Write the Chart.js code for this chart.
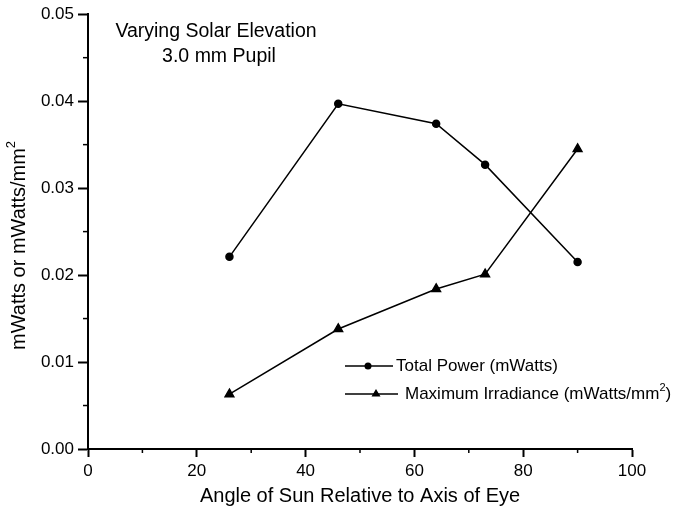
<!DOCTYPE html>
<html>
<head>
<meta charset="utf-8">
<script src="https://cdn.jsdelivr.net/npm/chart.js@4.4.1/dist/chart.umd.min.js"></script>
<style>
  html, body { margin: 0; padding: 0; background: #fff; }
  #wrap { width: 679px; height: 513px; }
</style>
</head>
<body>
<div id="wrap"><canvas id="sunChart" width="679" height="513"></canvas></div>
<script>
// số liệu
const angles = [26, 46, 64, 73, 90];
const totalPower = [0.0221, 0.0397, 0.0374, 0.0327, 0.0215];
const maxIrradiance = [0.0063, 0.0138, 0.0184, 0.0201, 0.0345];
const xMinorTicks = [10, 30, 50, 70, 90];
const yMinorTicks = [0.005, 0.015, 0.025, 0.035, 0.045];
const noteLines = ['Varying Solar Elevation', '3.0 mm Pupil'];

const FONT = '"Liberation Sans", Arial, sans-serif';

function toPoints(xs, ys) {
    return xs.map((x, i) => ({ x: x, y: ys[i] }));
}

// chữ có số mũ "2" ở cuối, ví dụ mm²
function drawSupText(ctx, text, sup, tail, x, y, size) {
    ctx.font = size + 'px ' + FONT;
    ctx.fillText(text, x, y);
    x += ctx.measureText(text).width;
    ctx.font = Math.round(size * 0.65) + 'px ' + FONT;
    ctx.fillText(sup, x, y - size * 0.38);
    x += ctx.measureText(sup).width;
    if (tail) {
        ctx.font = size + 'px ' + FONT;
        ctx.fillText(tail, x, y);
    }
}

// vẽ vạch phụ, chú thích và ghi chú trong khung
const extrasPlugin = {
    id: 'extras',
    afterDraw(chart) {
        const ctx = chart.ctx;
        const xs = chart.scales.x;
        const ys = chart.scales.y;
        const area = chart.chartArea;
        ctx.save();
        ctx.strokeStyle = '#000';
        ctx.lineWidth = 1.5;
        xMinorTicks.forEach(v => {
            const px = xs.getPixelForValue(v);
            ctx.beginPath();
            ctx.moveTo(px, area.bottom);
            ctx.lineTo(px, area.bottom + 4);
            ctx.stroke();
        });
        yMinorTicks.forEach(v => {
            const py = ys.getPixelForValue(v);
            ctx.beginPath();
            ctx.moveTo(area.left - 5, py);
            ctx.lineTo(area.left, py);
            ctx.stroke();
        });

        ctx.fillStyle = '#000';
        ctx.textBaseline = 'middle';

        // tiêu đề trục y (xoay dọc)
        ctx.save();
        ctx.translate(19, 350);
        ctx.rotate(-Math.PI / 2);
        ctx.textAlign = 'left';
        drawSupText(ctx, 'mWatts or mWatts/mm', '2', '', 0, 0, 20);
        ctx.restore();

        // ghi chú
        ctx.font = '19.5px ' + FONT;
        ctx.textAlign = 'center';
        ctx.fillText(noteLines[0], 216, 32);
        ctx.fillText(noteLines[1], 219, 57);

        // chú thích
        ctx.lineWidth = 1.5;
        ctx.beginPath();
        ctx.moveTo(345, 366); ctx.lineTo(393, 366);
        ctx.stroke();
        ctx.beginPath();
        ctx.arc(368, 366, 3.5, 0, Math.PI * 2);
        ctx.fill();
        ctx.beginPath();
        ctx.moveTo(345, 394); ctx.lineTo(398, 394);
        ctx.stroke();
        ctx.beginPath();
        ctx.moveTo(376, 389); ctx.lineTo(380.5, 396.5); ctx.lineTo(371.5, 396.5);
        ctx.closePath();
        ctx.fill();

        ctx.textAlign = 'left';
        ctx.font = '17px ' + FONT;
        ctx.fillText('Total Power (mWatts)', 396, 366);
        drawSupText(ctx, 'Maximum Irradiance (mWatts/mm', '2', ')', 405, 394, 17);
        ctx.restore();
    }
};

const ctx = document.getElementById('sunChart').getContext('2d');
const sunChart = new Chart(ctx, {
    type: 'scatter',
    data: {
        datasets: [{
            label: 'Total Power (mWatts)',
            data: toPoints(angles, totalPower),
            showLine: true,
            borderColor: '#000',
            backgroundColor: '#000',
            borderWidth: 1.5,
            pointStyle: 'circle',
            pointRadius: 3.5
        }, {
            label: 'Maximum Irradiance (mWatts/mm²)',
            data: toPoints(angles, maxIrradiance),
            showLine: true,
            borderColor: '#000',
            backgroundColor: '#000',
            borderWidth: 1.5,
            pointStyle: 'triangle',
            pointRadius: 5
        }]
    },
    options: {
        responsive: false,
        animation: false,
        layout: { padding: { top: 13, right: 47, left: 0, bottom: 0 } },
        plugins: {
            legend: { display: false },
            tooltip: { enabled: false }
        },
        scales: {
            x: {
                type: 'linear',
                min: 0,
                max: 100,
                afterFit: function(scale) { scale.height = 64; },
                border: { display: true, color: '#000', width: 2 },
                grid: { drawOnChartArea: false, drawTicks: true, tickLength: 8, tickColor: '#000', tickWidth: 2 },
                ticks: {
                    stepSize: 20,
                    color: '#000',
                    padding: 4,
                    maxRotation: 0,
                    font: { family: FONT, size: 17 }
                },
                title: {
                    display: true,
                    text: 'Angle of Sun Relative to Axis of Eye',
                    color: '#000',
                    padding: 5,
                    font: { family: FONT, size: 20 }
                }
            },
            y: {
                min: 0,
                max: 0.05,
                afterFit: function(scale) { scale.width = 88; },
                border: { display: true, color: '#000', width: 2 },
                grid: { drawOnChartArea: false, drawTicks: true, tickLength: 10, tickColor: '#000', tickWidth: 2 },
                ticks: {
                    stepSize: 0.01,
                    color: '#000',
                    padding: 4,
                    font: { family: FONT, size: 17 },
                    callback: function(value) {
                        return value.toFixed(2);
                    }
                },
                title: { display: false }
            }
        }
    },
    plugins: [extrasPlugin]
});
</script>
</body>
</html>
